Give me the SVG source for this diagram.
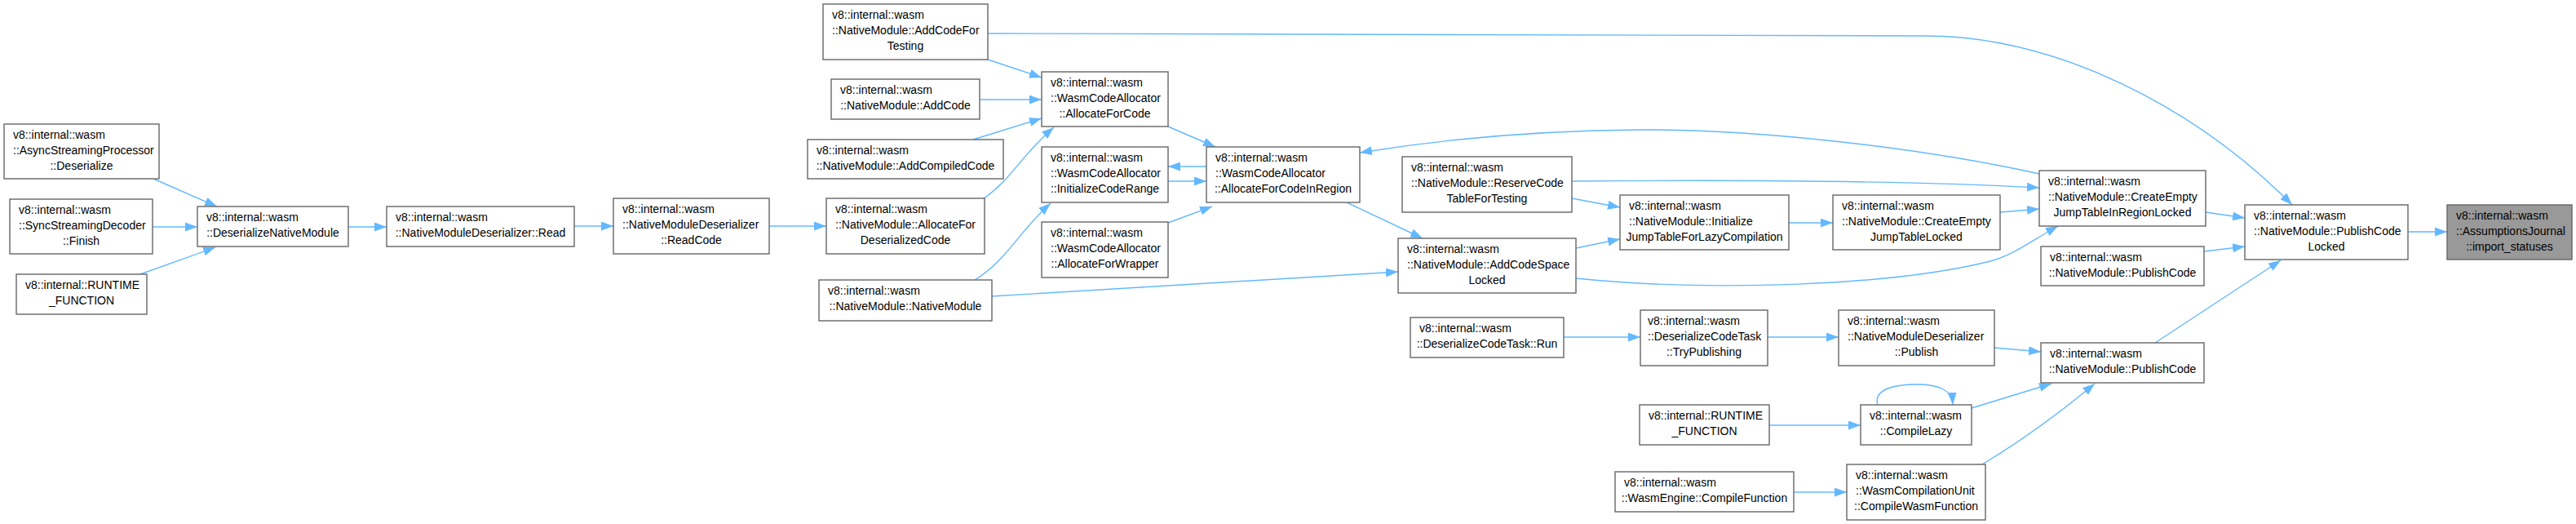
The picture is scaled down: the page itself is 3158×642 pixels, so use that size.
<svg xmlns="http://www.w3.org/2000/svg" width="3158" height="642" viewBox="0 0 3158 642">
<style>
.node rect{fill:#ffffff;stroke:#666666;stroke-width:1.4}
.hl rect{fill:#999999}
text{font-family:"Liberation Sans",Arial,Helvetica,sans-serif;font-size:14px;fill:#000000}
.c{text-anchor:middle}
.edges path{fill:none;stroke:#63b8ff;stroke-width:1.4;marker-end:url(#arr)}
</style>
<defs>
<marker id="arr" viewBox="0 0 15 11" markerUnits="userSpaceOnUse" markerWidth="15" markerHeight="11" refX="15" refY="5.5" orient="auto">
<path d="M0,0 L15,5.5 L0,11 z" fill="#63b8ff"/>
</marker>
</defs>
<rect x="0" y="0" width="3158" height="642" fill="#ffffff"/>
<g class="edges" id="edges">
<path d="M188,219 L266,253"/>
<path d="M187,278 L242,278"/>
<path d="M172,336 L264,303"/>
<path d="M427,278 L474,278"/>
<path d="M704,277 L752,277"/>
<path d="M943,277 L1013,277"/>
<path d="M1205,244 C1240,220 1252,190 1292,156"/>
<path d="M1195,343 C1235,318 1248,285 1288,249"/>
<path d="M1211,73 L1277,95"/>
<path d="M1201,122 L1277,122"/>
<path d="M1193,171 L1277,145"/>
<path d="M1432,155 L1490,180"/>
<path d="M1479,204 L1432,204"/>
<path d="M1432,222 L1479,222"/>
<path d="M1432,273 L1486,253"/>
<path d="M1651,248 L1744,292"/>
<path d="M1216,363 L1714,333"/>
<path d="M1211,41 L2360,44 C2520,44 2690,130 2810,251"/>
<path d="M2500,213 C2350,180 2150,158 2008,159 C1870,160 1760,172 1667,187"/>
<path d="M1927,222 C2150,220 2350,222 2500,230"/>
<path d="M1927,243 L1986,254"/>
<path d="M1932,304 L1986,293"/>
<path d="M2193,273 L2247,273"/>
<path d="M2452,260 L2500,256"/>
<path d="M1932,341 C2100,358 2320,350 2440,320 C2470,312 2490,295 2523,277"/>
<path d="M2704,260 L2752,267"/>
<path d="M2702,308 L2752,302"/>
<path d="M2952,284 L3000,284"/>
<path d="M2642,420 L2796,319"/>
<path d="M1917,413 L2011,413"/>
<path d="M2167,413 L2254,413"/>
<path d="M2445,426 L2502,431"/>
<path d="M2169,521 L2281,521"/>
<path d="M2302,496 C2296,476 2325,471 2350,471 C2378,471 2393,478 2394,496"/>
<path d="M2417,500 L2515,470"/>
<path d="M2199,603 L2264,603"/>
<path d="M2430,569 C2470,545 2520,510 2568,470"/>
</g>
<g class="node" id="n_async"><rect x="5" y="152" width="190" height="67"/><text x="16" y="170">v8::internal::wasm</text><text x="16" y="189">::AsyncStreamingProcessor</text><text class="c" x="100" y="208">::Deserialize</text></g>
<g class="node" id="n_sync"><rect x="12" y="244" width="175" height="67"/><text x="23" y="262">v8::internal::wasm</text><text x="23" y="281">::SyncStreamingDecoder</text><text class="c" x="99.5" y="300">::Finish</text></g>
<g class="node" id="n_runtime_left"><rect x="20" y="336" width="160" height="49"/><text x="31" y="354">v8::internal::RUNTIME</text><text class="c" x="100" y="373">_FUNCTION</text></g>
<g class="node" id="n_dnm"><rect x="242" y="253" width="185" height="49"/><text x="253" y="271">v8::internal::wasm</text><text class="c" x="334.5" y="290">::DeserializeNativeModule</text></g>
<g class="node" id="n_read"><rect x="474" y="253" width="230" height="49"/><text x="485" y="271">v8::internal::wasm</text><text class="c" x="589" y="290">::NativeModuleDeserializer::Read</text></g>
<g class="node" id="n_readcode"><rect x="752" y="243" width="191" height="68"/><text x="763" y="261">v8::internal::wasm</text><text x="763" y="280">::NativeModuleDeserializer</text><text class="c" x="847.5" y="299">::ReadCode</text></g>
<g class="node" id="n_afdc"><rect x="1013" y="243" width="194" height="68"/><text x="1024" y="261">v8::internal::wasm</text><text x="1024" y="280">::NativeModule::AllocateFor</text><text class="c" x="1110" y="299">DeserializedCode</text></g>
<g class="node" id="n_addcompiled"><rect x="990" y="171" width="240" height="48"/><text x="1001" y="189">v8::internal::wasm</text><text class="c" x="1110" y="208">::NativeModule::AddCompiledCode</text></g>
<g class="node" id="n_addcode"><rect x="1019" y="97" width="182" height="49"/><text x="1030" y="115">v8::internal::wasm</text><text class="c" x="1110" y="134">::NativeModule::AddCode</text></g>
<g class="node" id="n_addtest"><rect x="1009" y="5" width="202" height="68"/><text x="1020" y="23">v8::internal::wasm</text><text x="1020" y="42">::NativeModule::AddCodeFor</text><text class="c" x="1110" y="61">Testing</text></g>
<g class="node" id="n_nm"><rect x="1004" y="343" width="212" height="50"/><text x="1015" y="361">v8::internal::wasm</text><text class="c" x="1110" y="380">::NativeModule::NativeModule</text></g>
<g class="node" id="n_afc"><rect x="1277" y="88" width="155" height="67"/><text x="1288" y="106">v8::internal::wasm</text><text x="1288" y="125">::WasmCodeAllocator</text><text class="c" x="1354.5" y="144">::AllocateForCode</text></g>
<g class="node" id="n_icr"><rect x="1277" y="180" width="155" height="68"/><text x="1288" y="198">v8::internal::wasm</text><text x="1288" y="217">::WasmCodeAllocator</text><text class="c" x="1354.5" y="236">::InitializeCodeRange</text></g>
<g class="node" id="n_afw"><rect x="1277" y="272" width="155" height="68"/><text x="1288" y="290">v8::internal::wasm</text><text x="1288" y="309">::WasmCodeAllocator</text><text class="c" x="1354.5" y="328">::AllocateForWrapper</text></g>
<g class="node" id="n_afcir"><rect x="1479" y="180" width="188" height="68"/><text x="1490" y="198">v8::internal::wasm</text><text x="1490" y="217">::WasmCodeAllocator</text><text class="c" x="1573" y="236">::AllocateForCodeInRegion</text></g>
<g class="node" id="n_rctft"><rect x="1719" y="192" width="208" height="68"/><text x="1730" y="210">v8::internal::wasm</text><text x="1730" y="229">::NativeModule::ReserveCode</text><text class="c" x="1823" y="248">TableForTesting</text></g>
<g class="node" id="n_acsl"><rect x="1714" y="292" width="218" height="67"/><text x="1725" y="310">v8::internal::wasm</text><text x="1725" y="329">::NativeModule::AddCodeSpace</text><text class="c" x="1823" y="348">Locked</text></g>
<g class="node" id="n_ijt"><rect x="1986" y="239" width="207" height="67"/><text x="1997" y="257">v8::internal::wasm</text><text x="1997" y="276">::NativeModule::Initialize</text><text class="c" x="2089.5" y="295">JumpTableForLazyCompilation</text></g>
<g class="node" id="n_cejtl"><rect x="2247" y="239" width="205" height="67"/><text x="2258" y="257">v8::internal::wasm</text><text x="2258" y="276">::NativeModule::CreateEmpty</text><text class="c" x="2349.5" y="295">JumpTableLocked</text></g>
<g class="node" id="n_cejtirl"><rect x="2500" y="209" width="204" height="68"/><text x="2511" y="227">v8::internal::wasm</text><text x="2511" y="246">::NativeModule::CreateEmpty</text><text class="c" x="2602" y="265">JumpTableInRegionLocked</text></g>
<g class="node" id="n_pc_upper"><rect x="2502" y="302" width="200" height="48"/><text x="2513" y="320">v8::internal::wasm</text><text class="c" x="2602" y="339">::NativeModule::PublishCode</text></g>
<g class="node" id="n_pcl"><rect x="2752" y="251" width="200" height="67"/><text x="2763" y="269">v8::internal::wasm</text><text x="2763" y="288">::NativeModule::PublishCode</text><text class="c" x="2852" y="307">Locked</text></g>
<g class="node hl" id="n_import_statuses"><rect x="3000" y="251" width="153" height="67"/><text x="3011" y="269">v8::internal::wasm</text><text x="3011" y="288">::AssumptionsJournal</text><text class="c" x="3076.5" y="307">::import_statuses</text></g>
<g class="node" id="n_run"><rect x="1729" y="389" width="188" height="49"/><text x="1740" y="407">v8::internal::wasm</text><text class="c" x="1823" y="426">::DeserializeCodeTask::Run</text></g>
<g class="node" id="n_tryp"><rect x="2011" y="380" width="156" height="68"/><text x="2020" y="398">v8::internal::wasm</text><text x="2020" y="417">::DeserializeCodeTask</text><text class="c" x="2089" y="436">::TryPublishing</text></g>
<g class="node" id="n_publish"><rect x="2254" y="380" width="191" height="68"/><text x="2265" y="398">v8::internal::wasm</text><text x="2265" y="417">::NativeModuleDeserializer</text><text class="c" x="2349.5" y="436">::Publish</text></g>
<g class="node" id="n_pc_lower"><rect x="2502" y="420" width="200" height="49"/><text x="2513" y="438">v8::internal::wasm</text><text class="c" x="2602" y="457">::NativeModule::PublishCode</text></g>
<g class="node" id="n_runtime_right"><rect x="2010" y="496" width="159" height="49"/><text x="2021" y="514">v8::internal::RUNTIME</text><text class="c" x="2089.5" y="533">_FUNCTION</text></g>
<g class="node" id="n_lazy"><rect x="2281" y="496" width="136" height="49"/><text x="2292" y="514">v8::internal::wasm</text><text class="c" x="2349" y="533">::CompileLazy</text></g>
<g class="node" id="n_cf"><rect x="1980" y="578" width="219" height="49"/><text x="1991" y="596">v8::internal::wasm</text><text class="c" x="2089.5" y="615">::WasmEngine::CompileFunction</text></g>
<g class="node" id="n_cwf"><rect x="2264" y="569" width="170" height="68"/><text x="2275" y="587">v8::internal::wasm</text><text x="2275" y="606">::WasmCompilationUnit</text><text class="c" x="2349" y="625">::CompileWasmFunction</text></g>
</svg>
